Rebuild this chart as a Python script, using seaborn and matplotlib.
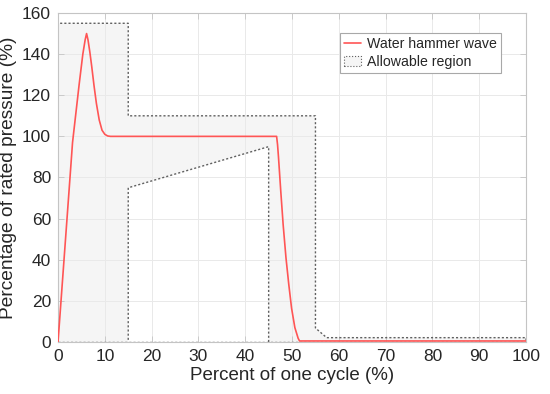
import matplotlib
matplotlib.use('Agg')
import matplotlib.pyplot as plt
from matplotlib.patches import Patch
from matplotlib.lines import Line2D
import seaborn as sns

# water hammer wave (percent of cycle, percent of rated pressure)
wave_x = [0, 0.8, 1.6, 2.4, 3.1, 3.8, 4.5, 5.3, 5.8, 6.1, 6.4, 6.8, 7.2, 7.7, 8.2, 8.8, 9.4, 10.0, 10.6, 11.2,
          46.7, 46.9, 47.1, 47.6, 48.1, 48.7, 49.3, 49.9, 50.6, 51.3, 51.6, 100]
wave_y = [0, 25, 50, 75, 97, 111, 125, 140, 147, 150, 147, 141, 134, 124.5, 116, 108, 103, 101, 100.2, 100,
          100, 96, 90, 73, 57, 41, 28, 16.4, 7, 1.8, 0.5, 0.5]

# allowable region: upper limit, and the notch cut out below it
upper_x = [0, 0, 15, 15, 55, 55, 57.4, 100, 100]
upper_y = [0, 155, 155, 110, 110, 6.8, 2.1, 2.1, 0]
notch_x = [45, 45, 15, 15]
notch_y = [0, 95, 75, 0]
base_x = [0, 100]
base_y = [0, 0]

xticks = list(range(0, 101, 10))
yticks = list(range(0, 161, 20))

red = '#ff5555'
dot = '#606060'
fillc = '#f5f5f5'
dotted = (0, (1.5, 1.5))

sns.set_theme(style='whitegrid')
plt.rcParams['font.family'] = ['Liberation Sans', 'DejaVu Sans']

fig = plt.figure(figsize=(5.5, 3.94), dpi=100)
ax = fig.add_axes([0.1055, 0.132, 0.851, 0.835])

# region polygon = upper limit then back along the bottom through the notch
poly_x = upper_x + notch_x + [0]
poly_y = upper_y + notch_y + [0]
ax.fill(poly_x, poly_y, facecolor=fillc, edgecolor='none', zorder=0.3)
ax.plot(upper_x, upper_y, color=dot, lw=1, linestyle=dotted, zorder=1.5)
ax.plot(notch_x, notch_y, color=dot, lw=1, linestyle=dotted, zorder=1.5)
ax.plot(base_x, base_y, color=dot, lw=1, linestyle=dotted, zorder=1.5)

sns.lineplot(x=wave_x, y=wave_y, ax=ax, color=red, lw=1.2, sort=False, estimator=None, zorder=3)

ax.set_xlim(0, 100)
ax.set_ylim(0, 160)
ax.set_xticks(xticks)
ax.set_yticks(yticks)
ax.grid(True, color='#e9e9e9', lw=0.7)
ax.set_axisbelow(True)
for s in ax.spines.values():
    s.set_color('#c4c4c4')
    s.set_linewidth(0.8)
ax.tick_params(direction='in', length=4, width=0.6, color='#c4c4c4', labelsize=12.5,
               labelcolor='#262626', top=True, right=True, left=True, bottom=True, pad=5)

ax.set_xlabel('Percent of one cycle (%)', fontsize=13.5, color='#262626', labelpad=2)
ax.set_ylabel('Percentage of rated pressure (%)', fontsize=13.8, color='#262626', labelpad=4)

handles = [Line2D([], [], color=red, lw=1.2),
           Patch(facecolor=fillc, edgecolor=dot, linestyle=':', lw=0.8)]
leg = ax.legend(handles, ['Water hammer wave', 'Allowable region'], loc='upper right',
                bbox_to_anchor=(0.947, 0.939), fontsize=10.2, fancybox=False, framealpha=1,
                edgecolor='#a8a8a8', handlelength=1.2, handletextpad=0.4,
                borderpad=0.3, labelspacing=0.25, borderaxespad=0)
leg.get_frame().set_linewidth(0.8)

fig.savefig('out.png', dpi=100)
